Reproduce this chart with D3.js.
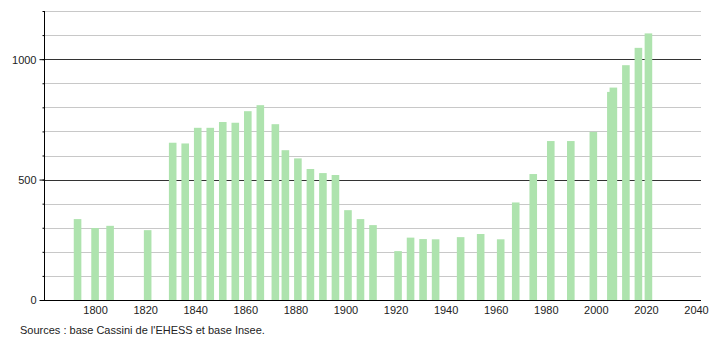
<!DOCTYPE html>
<html lang="fr">
<head>
    <meta charset="UTF-8">
    <title>Population</title>
    <script src="https://d3js.org/d3.v7.min.js"></script>
    <style>
        body { margin: 0; background: #fff; }
        text { font-family: 'Liberation Sans', Arial, sans-serif; font-size: 11px; fill: #222; }
        .axis path { display: none; }
        .axis line { stroke: #000; }
    </style>
</head>
<body>
<svg height="340" width="710"></svg>
<script>
    const years = [1793, 1800, 1806, 1821, 1831, 1836, 1841, 1846, 1851, 1856, 1861, 1866, 1872, 1876,
        1881, 1886, 1891, 1896, 1901, 1906, 1911, 1921, 1926, 1931, 1936, 1946, 1954, 1962, 1968,
        1975, 1982, 1990, 1999, 2006, 2007, 2012, 2017, 2021];
    const population = [336, 299, 308, 290, 653, 650, 715, 715, 739, 736, 784, 809, 730, 622,
        588, 544, 527, 519, 373, 336, 311, 203, 259, 253, 252, 261, 274, 252, 405,
        523, 660, 660, 698, 864, 882, 975, 1047, 1107];
    const xTicks = [1800, 1820, 1840, 1860, 1880, 1900, 1920, 1940, 1960, 1980, 2000, 2020, 2040];
    const yLabels = [0, 500, 1000];
    const source = "Sources : base Cassini de l'EHESS et base Insee.";

    const svg = d3.select("svg");
    const x = d3.scaleLinear().domain([1780, 2040]).range([45, 696]);
    const y = d3.scaleLinear().domain([0, 1200]).range([300, 11]);
    const left = 44, right = 701;

    // grid lines every 100
    const grid = d3.range(100, 1201, 100);
    svg.append("g").selectAll("line").data(grid).enter().append("line")
        .attr("x1", left).attr("x2", right)
        .attr("y1", d => Math.round(y(d)) + 0.5).attr("y2", d => Math.round(y(d)) + 0.5)
        .attr("stroke", d => d % 500 === 0 ? "#333" : "#c8c8c8")
        .attr("stroke-width", 1);

    // bars
    svg.append("g").selectAll("rect").data(years).enter().append("rect")
        .attr("x", d => x(d) - 3.8)
        .attr("width", 7.6)
        .attr("y", (d, i) => y(population[i]))
        .attr("height", (d, i) => y(0) - y(population[i]))
        .attr("fill", "#aee3ae");

    // y axis: small ticks every 100, labels at 0/500/1000
    const yAxis = d3.axisLeft(y).tickValues(d3.range(0, 1201, 100)).tickSize(2).tickFormat("");
    svg.append("g").attr("class", "axis").attr("transform", `translate(${left + 0.5},0)`).call(yAxis);
    const yMajor = d3.axisLeft(y).tickValues(yLabels).tickSize(5).tickPadding(3).tickFormat(d3.format("d"));
    svg.append("g").attr("class", "axis").attr("transform", `translate(${left + 0.5},0)`).call(yMajor)
        .selectAll("text").attr("dy", "0.35em");
    svg.append("line").attr("x1", left + 0.5).attr("x2", left + 0.5)
        .attr("y1", y(1200)).attr("y2", y(0)).attr("stroke", "#000");

    // x axis
    const xAxis = d3.axisBottom(x).tickValues(xTicks).tickSize(0).tickPadding(6).tickFormat(d3.format("d"));
    svg.append("g").attr("class", "axis").attr("transform", `translate(0,${y(0)})`).call(xAxis);
    svg.append("line").attr("x1", left).attr("x2", right)
        .attr("y1", y(0) + 0.5).attr("y2", y(0) + 0.5).attr("stroke", "#000");

    svg.append("text").attr("x", 20).attr("y", 334).text(source);
</script>
</body>
</html>
